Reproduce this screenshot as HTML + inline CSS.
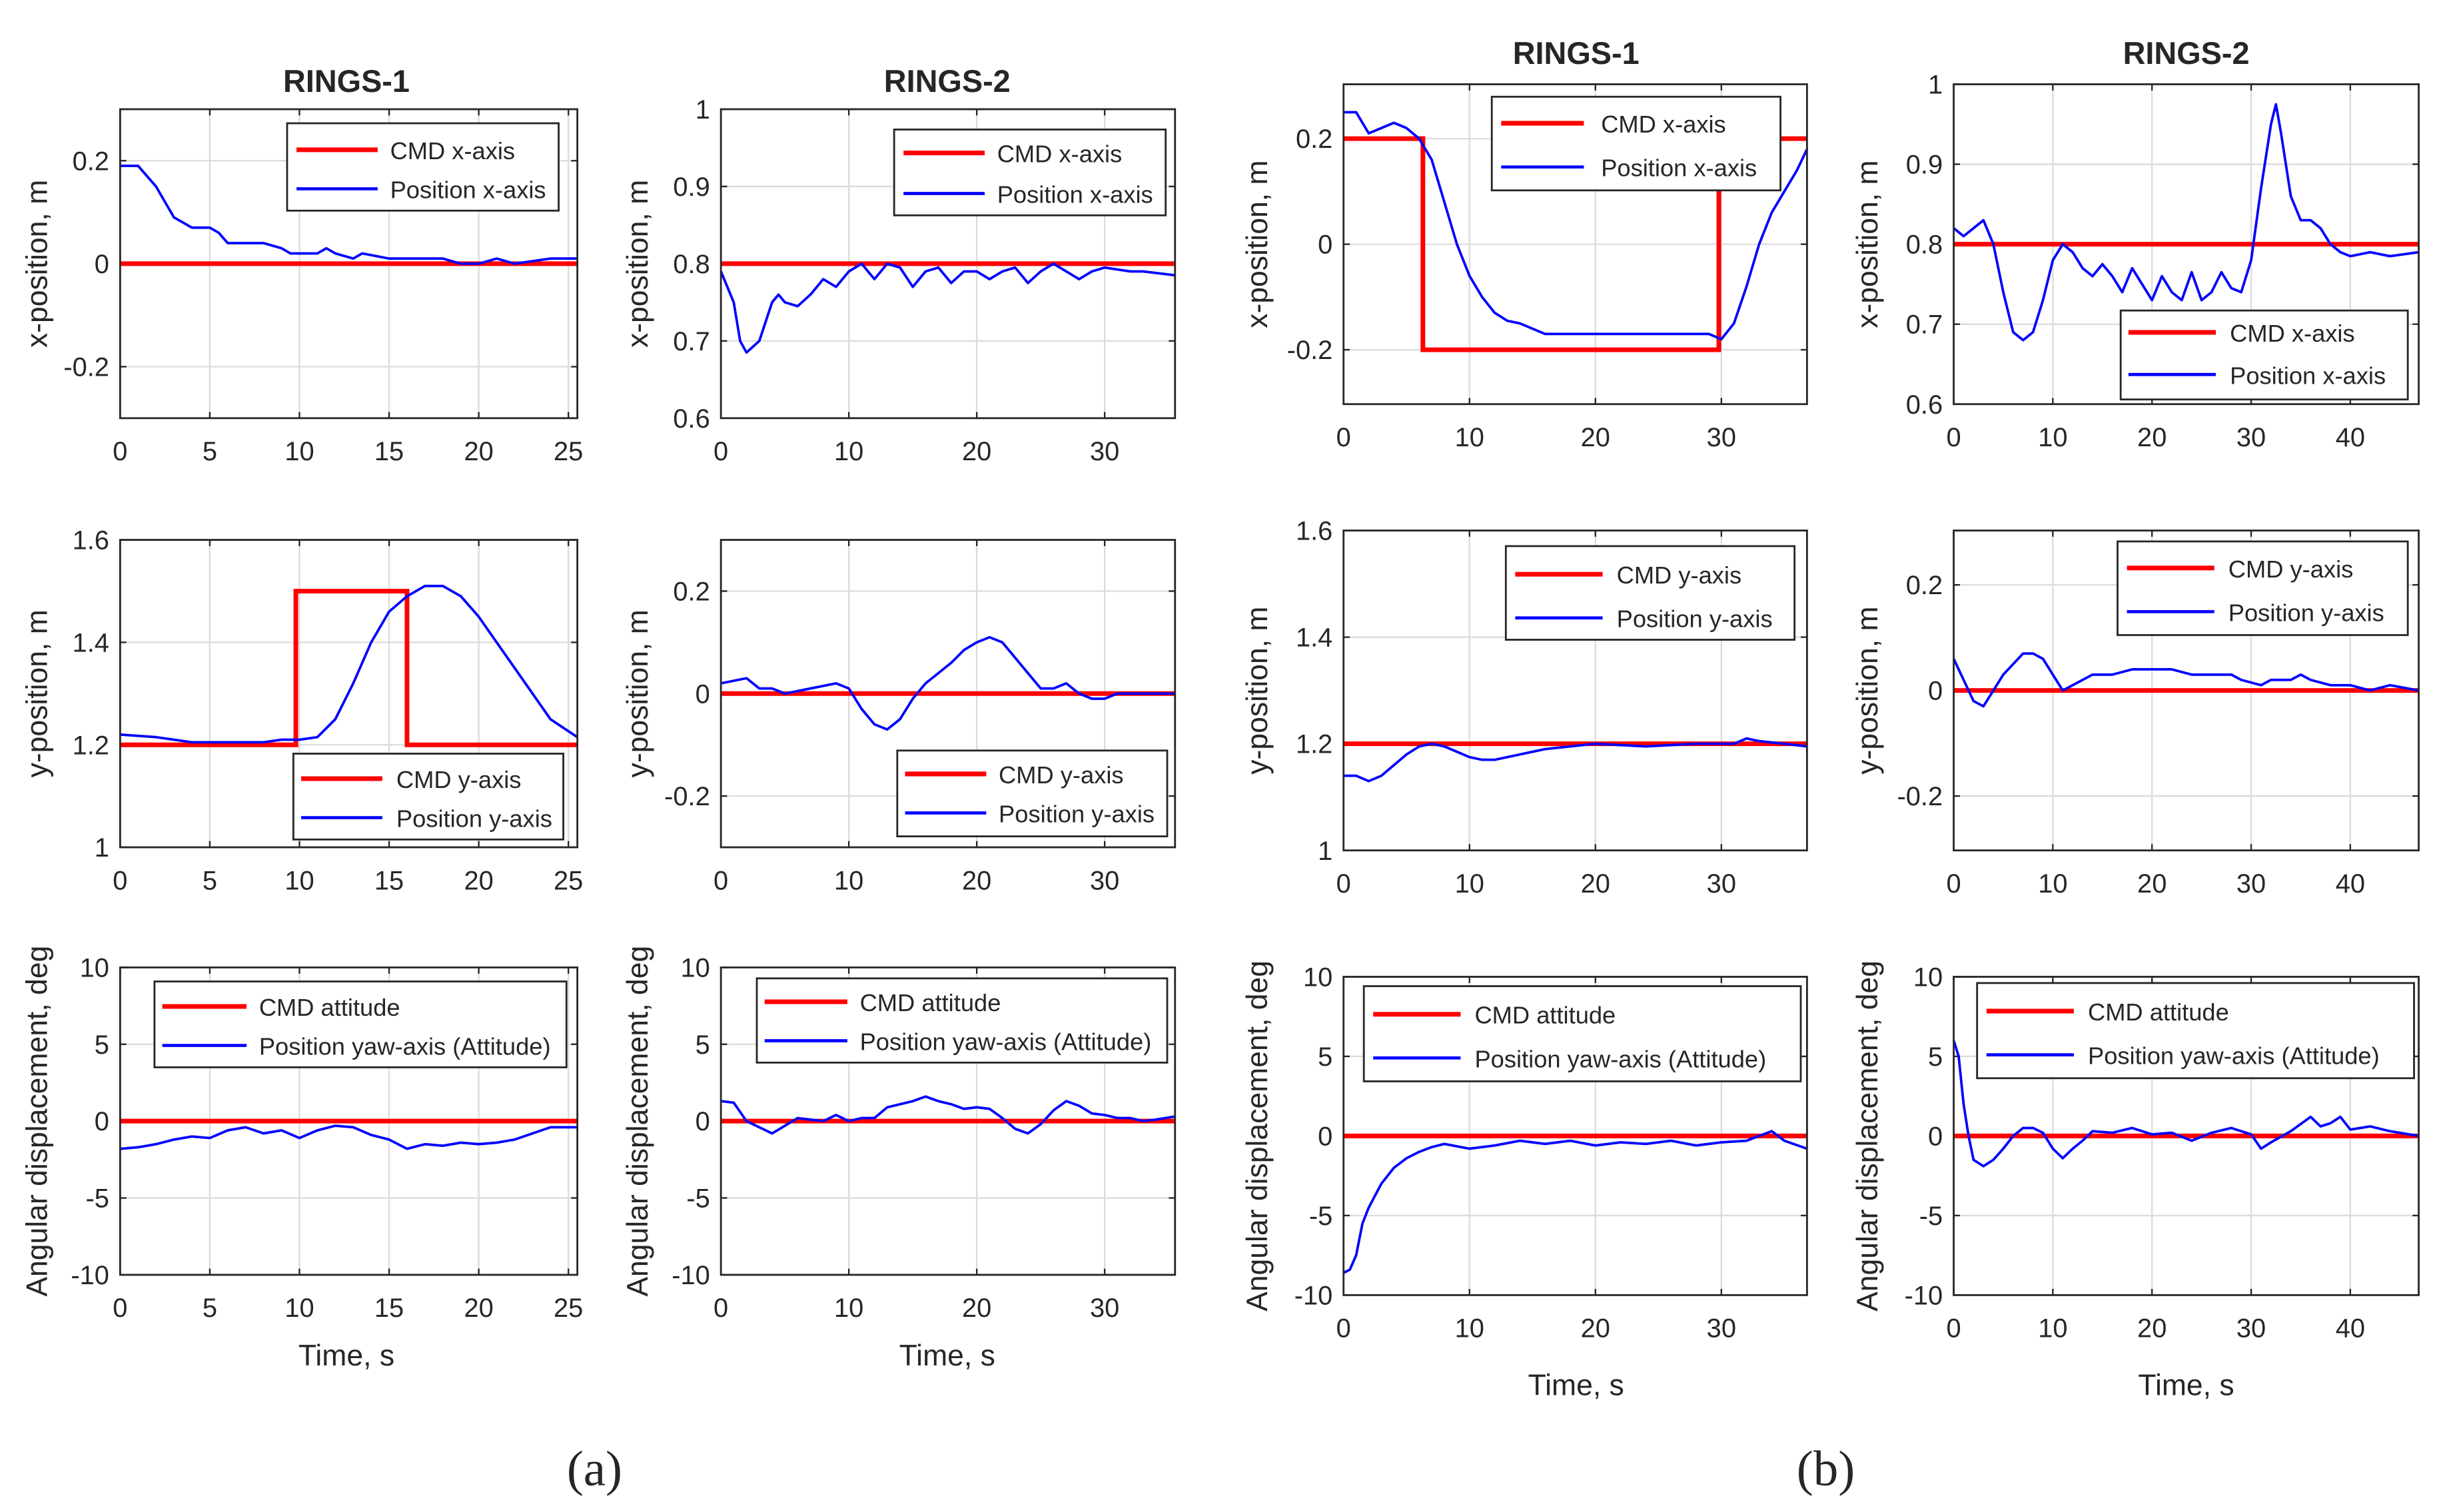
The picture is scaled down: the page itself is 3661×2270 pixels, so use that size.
<!DOCTYPE html>
<html><head><meta charset="utf-8"><style>
html,body{margin:0;padding:0;background:#fff}
svg{display:block}
text{font-family:"Liberation Sans Narrow","Liberation Sans",sans-serif;fill:#262626}
</style></head><body>
<svg id="fig" width="3661" height="2270" viewBox="0 0 1563 969" preserveAspectRatio="none" xmlns="http://www.w3.org/2000/svg">
<text x="222" y="59" font-size="20" font-weight="bold" text-anchor="middle">RINGS-1</text>
<text x="607" y="59" font-size="20" font-weight="bold" text-anchor="middle">RINGS-2</text>
<text x="1010" y="41" font-size="20" font-weight="bold" text-anchor="middle">RINGS-1</text>
<text x="1401" y="41" font-size="20" font-weight="bold" text-anchor="middle">RINGS-2</text>
<text x="222" y="875" font-size="19" text-anchor="middle">Time, s</text>
<text x="607" y="875" font-size="19" text-anchor="middle">Time, s</text>
<text x="1010" y="894" font-size="19" text-anchor="middle">Time, s</text>
<text x="1401" y="894" font-size="19" text-anchor="middle">Time, s</text>
<text x="381" y="952" font-size="32" text-anchor="middle" style="font-family:'Liberation Serif',serif">(a)</text>
<text x="1170" y="952" font-size="32" text-anchor="middle" style="font-family:'Liberation Serif',serif">(b)</text>
</svg>
<script>
// ---- data ----
const a1r1T=[0,1,1.5,2,2.5,3,3.5,4,5,5.5,6,8,9,9.5,11,11.5,12,13,13.5,15,18,19,20,21,22,24,25.5];
const a1r1V=[.19,.19,.17,.15,.12,.09,.08,.07,.07,.06,.04,.04,.03,.02,.02,.03,.02,.01,.02,.01,.01,0,0,.01,0,.01,.01];
const a1r2T=[0,2,4,6,8,9,10,11,12,13,14,15,16,17,18,19,20,21,22,23,24,25.5];
const a1r2V=[1.22,1.215,1.205,1.205,1.205,1.21,1.21,1.215,1.25,1.32,1.40,1.46,1.49,1.51,1.51,1.49,1.45,1.40,1.35,1.30,1.25,1.215];
const a1r2CmdT=[0,9.8,9.8,16,16,25.5];
const a1r2CmdV=[1.2,1.2,1.5,1.5,1.2,1.2];
const a1r3T=[0,1,2,3,4,5,6,7,8,9,10,11,12,13,14,15,16,17,18,19,20,21,22,23,24,25.5];
const a1r3V=[-1.8,-1.7,-1.5,-1.2,-1,-1.1,-0.6,-0.4,-0.8,-0.6,-1.1,-0.6,-0.3,-0.4,-0.9,-1.2,-1.8,-1.5,-1.6,-1.4,-1.5,-1.4,-1.2,-0.8,-0.4,-0.4];
const a2r1T=[0,1,1.5,2,3,4,4.5,5,6,7,8,9,10,11,12,13,14,15,16,17,18,19,20,21,22,23,24,25,26,27,28,29,30,32,33,35.5];
const a2r1V=[.79,.75,.70,.685,.70,.75,.76,.75,.745,.76,.78,.77,.79,.80,.78,.80,.795,.77,.79,.795,.775,.79,.79,.78,.79,.795,.775,.79,.80,.79,.78,.79,.795,.79,.79,.785];
const a2r2T=[0,2,3,4,5,7,9,10,11,12,13,14,15,16,17,18,19,20,21,22,23,24,25,26,27,28,29,30,31,35.5];
const a2r2V=[.02,.03,.01,.01,0,.01,.02,.01,-.03,-.06,-.07,-.05,-.01,.02,.04,.06,.085,.1,.11,.1,.07,.04,.01,.01,.02,0,-.01,-.01,0,0];
const a2r3T=[0,1,2,3,4,5,6,7,8,9,10,11,12,13,14,15,16,17,18,19,20,21,22,23,24,25,26,27,28,29,30,31,32,33,34,35.5];
const a2r3V=[1.3,1.2,0,-0.4,-0.8,-0.3,0.2,0.1,0,0.4,0,0.2,0.2,0.9,1.1,1.3,1.6,1.3,1.1,0.8,0.9,0.8,0.2,-0.5,-0.8,-0.2,0.7,1.3,1.0,0.5,0.4,0.2,0.2,0,0.1,0.3];
const b1r1T=[0,1,2,3,4,5,6,7,8,9,10,11,12,13,14,15,16,18,20,22,25,28,29,30,31,32,33,34,35,36,36.8];
const b1r1V=[.25,.25,.21,.22,.23,.22,.20,.16,.08,0,-.06,-.1,-.13,-.145,-.15,-.16,-.17,-.17,-.17,-.17,-.17,-.17,-.17,-.18,-.15,-.08,0,.06,.1,.14,.18];
const b1r1CmdT=[0,6.3,6.3,29.8,29.8,36.8];
const b1r1CmdV=[0.2,0.2,-0.2,-0.2,0.2,0.2];
const b1r2T=[0,1,2,3,4,5,6,7,8,9,10,11,12,14,16,18,20,24,28,31,32,33,35,36.8];
const b1r2V=[1.14,1.14,1.13,1.14,1.16,1.18,1.195,1.2,1.195,1.185,1.175,1.17,1.17,1.18,1.19,1.195,1.2,1.195,1.2,1.2,1.21,1.205,1.2,1.195];
const b1r3T=[0,0.5,1,1.5,2,3,4,5,6,7,8,10,12,14,16,18,20,22,24,26,28,30,32,34,35,36.8];
const b1r3V=[-8.6,-8.4,-7.5,-5.5,-4.5,-3,-2,-1.4,-1,-0.7,-0.5,-0.8,-0.6,-0.3,-0.5,-0.3,-0.6,-0.4,-0.5,-0.3,-0.6,-0.4,-0.3,0.3,-0.3,-0.8];
const b2r1T=[0,1,2,3,4,5,6,7,8,9,10,11,12,13,14,15,16,17,18,19,20,21,22,23,24,25,26,27,28,29,30,31,32,32.5,33,34,35,36,37,38,39,40,42,44,46.9];
const b2r1V=[.82,.81,.82,.83,.80,.74,.69,.68,.69,.73,.78,.80,.79,.77,.76,.775,.76,.74,.77,.75,.73,.76,.74,.73,.765,.73,.74,.765,.745,.74,.78,.87,.95,.975,.94,.86,.83,.83,.82,.80,.79,.785,.79,.785,.79];
const b2r2T=[0,1,2,3,4,5,6,7,8,9,10,11,12,13,14,16,18,20,22,24,26,28,29,31,32,34,35,36,38,40,42,44,46.9];
const b2r2V=[.06,.02,-.02,-.03,0,.03,.05,.07,.07,.06,.03,0,.01,.02,.03,.03,.04,.04,.04,.03,.03,.03,.02,.01,.02,.02,.03,.02,.01,.01,0,.01,0];
const b2r3T=[0,0.5,1,1.5,2,3,4,5,6,7,8,9,10,11,12,13,14,16,18,20,22,24,26,28,30,31,32,34,36,37,38,39,40,42,44,46.9];
const b2r3V=[6,5,2,0,-1.5,-1.9,-1.5,-0.8,0,0.5,0.5,0.2,-0.8,-1.4,-0.8,-0.3,0.3,0.2,0.5,0.1,0.2,-0.3,0.2,0.5,0.1,-0.8,-0.4,0.3,1.2,0.6,0.8,1.2,0.4,0.6,0.3,0];
const xTicksA1=[0,5,10,15,20,25];
const xTicksA2=[0,10,20,30];
const xTicksB1=[0,10,20,30];
const xTicksB2=[0,10,20,30,40];
const yTicksX=[-0.2,0,0.2];
const yTicksX2=[0.6,0.7,0.8,0.9,1];
const yTicksY=[1,1.2,1.4,1.6];
const yTicksAng=[-10,-5,0,5,10];

const NS='http://www.w3.org/2000/svg';
const svg=document.getElementById('fig');
function mk(tag,attrs,parent){const e=document.createElementNS(NS,tag);for(const k in attrs)e.setAttribute(k,attrs[k]);(parent||svg).appendChild(e);return e;}
function fmt(v){return String(Math.round(v*100)/100);}

function plot(id,box,xr,yr,xt,yt,ylabel,ylx,series,cmd,leg){
  const [L,T,R,B]=box;
  const g=mk('g',{});
  
  
  const sx=v=>L+(v-xr[0])/(xr[1]-xr[0])*(R-L);
  const sy=v=>B-(v-yr[0])/(yr[1]-yr[0])*(B-T);
  mk('rect',{x:L,y:T,width:R-L,height:B-T,fill:'#fff'},g);
  xt.forEach(v=>{const x=sx(v);
    const gl=mk('line',{x1:x,x2:x,y1:T,y2:B,stroke:'#dcdcdc','stroke-width':1},g);
    
    mk('line',{x1:x,x2:x,y1:B,y2:B-4,stroke:'#262626','stroke-width':1},g);
    mk('line',{x1:x,x2:x,y1:T,y2:T+4,stroke:'#262626','stroke-width':1},g);
    const t=mk('text',{x:x,y:B+27,'font-size':17,'text-anchor':'middle'},g);t.textContent=fmt(v);
    });
  yt.forEach(v=>{const y=sy(v);
    const gl=mk('line',{x1:L,x2:R,y1:y,y2:y,stroke:'#dcdcdc','stroke-width':1},g);
    
    mk('line',{x1:L,x2:L+4,y1:y,y2:y,stroke:'#262626','stroke-width':1},g);
    mk('line',{x1:R,x2:R-4,y1:y,y2:y,stroke:'#262626','stroke-width':1},g);
    const t=mk('text',{x:L-7,y:y+6,'font-size':17,'text-anchor':'end'},g);t.textContent=fmt(v);
    });
  const pts=(ts,vs)=>ts.map((t,i)=>sx(t).toFixed(2)+','+sy(vs[i]).toFixed(2)).join(' ');
  const cl=mk('polyline',{points:pts(cmd[0],cmd[1]),fill:'none',stroke:'#ff0000','stroke-width':3},g);
  
  const pl=mk('polyline',{points:pts(series[0],series[1]),fill:'none',stroke:'#0000ff','stroke-width':1.6,'stroke-linejoin':'round'},g);
  
  mk('rect',{x:L,y:T,width:R-L,height:B-T,fill:'none',stroke:'#262626','stroke-width':1.2},g);
  const cy=(T+B)/2;
  const yl=mk('text',{x:ylx,y:cy,'font-size':19,'text-anchor':'middle',transform:'rotate(-90 '+ylx+' '+cy+')',style:"font-family:'Liberation Sans',sans-serif"},g);
  yl.textContent=ylabel;
  
  // legend
  const [bx1,by1,bx2,by2,e1,e2,lx1,lx2,tx,l1,l2]=leg;
  const lg=mk('g',{},g);
  
  mk('rect',{x:bx1,y:by1,width:bx2-bx1,height:by2-by1,fill:'#fff',stroke:'#262626','stroke-width':1.2},lg);
  mk('line',{x1:lx1,x2:lx2,y1:e1,y2:e1,stroke:'#ff0000','stroke-width':3},lg);
  mk('line',{x1:lx1,x2:lx2,y1:e2,y2:e2,stroke:'#0000ff','stroke-width':2},lg);
  const t1=mk('text',{x:tx,y:e1+6,'font-size':15.5},lg);t1.textContent=l1;
  
  const t2=mk('text',{x:tx,y:e2+6,'font-size':15.5},lg);t2.textContent=l2;
  
}
const cX=['CMD x-axis','Position x-axis'],cY=['CMD y-axis','Position y-axis'],cA=['CMD attitude','Position yaw-axis (Attitude)'];
const xl='x-position, m',yl='y-position, m',al='Angular displacement, deg';
plot('plot-a-rings1-x',[77,70,370,268],[0,25.5],[-0.3,0.3],xTicksA1,yTicksX,xl,30,[a1r1T,a1r1V],[[0,25.5],[0,0]],[184,79,358,135,96,121,190,242,250,...cX]);
plot('plot-a-rings1-y',[77,346,370,543],[0,25.5],[1,1.6],xTicksA1,yTicksY,yl,30,[a1r2T,a1r2V],[a1r2CmdT,a1r2CmdV],[188,483,361,538,499,524,193,245,254,...cY]);
plot('plot-a-rings1-att',[77,620,370,817],[0,25.5],[-10,10],xTicksA1,yTicksAng,al,30,[a1r3T,a1r3V],[[0,25.5],[0,0]],[99,629,363,684,645,670,104,158,166,...cA]);
plot('plot-a-rings2-x',[462,70,753,268],[0,35.5],[0.6,1],xTicksA2,yTicksX2,xl,415,[a2r1T,a2r1V],[[0,35.5],[0.8,0.8]],[573,83,747,138,98,124,579,631,639,...cX]);
plot('plot-a-rings2-y',[462,346,753,543],[0,35.5],[-0.3,0.3],xTicksA2,yTicksX,yl,415,[a2r2T,a2r2V],[[0,35.5],[0,0]],[575,481,748,536,496,521,580,632,640,...cY]);
plot('plot-a-rings2-att',[462,620,753,817],[0,35.5],[-10,10],xTicksA2,yTicksAng,al,415,[a2r3T,a2r3V],[[0,35.5],[0,0]],[485,627,748,681,642,667,490,543,551,...cA]);
plot('plot-b-rings1-x',[861,54,1158,259],[0,36.8],[-0.303,0.303],xTicksB1,yTicksX,xl,812,[b1r1T,b1r1V],[b1r1CmdT,b1r1CmdV],[956,62,1141,122,79,107,962,1015,1026,...cX]);
plot('plot-b-rings1-y',[861,340,1158,545],[0,36.8],[1,1.6],xTicksB1,yTicksY,yl,812,[b1r2T,b1r2V],[[0,36.8],[1.2,1.2]],[965,350,1150,410,368,396,971,1027,1036,...cY]);
plot('plot-b-rings1-att',[861,626,1158,830],[0,36.8],[-10,10],xTicksB1,yTicksAng,al,812,[b1r3T,b1r3V],[[0,36.8],[0,0]],[874,632,1154,693,650,678,880,936,945,...cA]);
plot('plot-b-rings2-x',[1252,54,1550,259],[0,46.9],[0.6,1],xTicksB2,yTicksX2,xl,1203,[b2r1T,b2r1V],[[0,46.9],[0.8,0.8]],[1359,199,1543,256,213,240,1364,1420,1429,...cX]);
plot('plot-b-rings2-y',[1252,340,1550,545],[0,46.9],[-0.303,0.303],xTicksB2,yTicksX,yl,1203,[b2r2T,b2r2V],[[0,46.9],[0,0]],[1357,347,1543,407,364,392,1363,1419,1428,...cY]);
plot('plot-b-rings2-att',[1252,626,1550,830],[0,46.9],[-10,10],xTicksB2,yTicksAng,al,1203,[b2r3T,b2r3V],[[0,46.9],[0,0]],[1267,630,1547,691,648,676,1273,1329,1338,...cA]);
</script>
</body></html>
